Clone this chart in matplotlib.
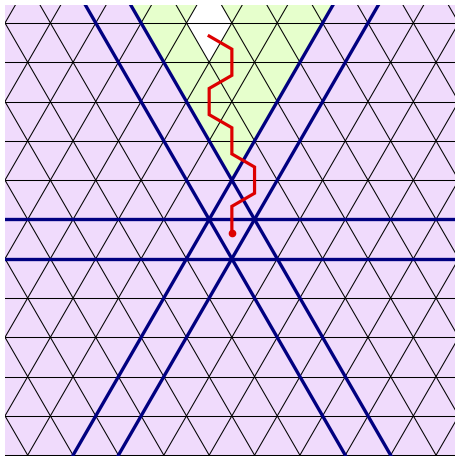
import numpy as np
import matplotlib
matplotlib.use("Agg")
import matplotlib.pyplot as plt
from matplotlib.collections import PolyCollection

R3 = np.sqrt(3.0)

# Walk through triangle centroids: x in edge lengths, height in lattice rows
path_x = [-0.5, 0.0, 0.0, -0.5, -0.5, 0.0, 0.0, 0.5, 0.5, 0.0, 0.0]
path_row = [17/3, 16/3, 14/3, 13/3, 11/3, 10/3, 8/3, 7/3, 5/3, 4/3, 2/3]

# Blank (uncoloured) cells, given by centroid
white_x = [-0.5, -0.5]
white_row = [17/3, 19/3]

# Thick guide lines: horizontals (rows) and sloped lines through a vertex
guide_rows = [0, 1]
guide_points_x = [0.0, 0.0]
guide_points_row = [0, 2]

# Cone apex (vertex) of the highlighted wedge
apex_x, apex_row = 0.0, 2

purple = "#f0dbfc"
green = "#e6ffcc"
navy = "#000080"
red = "#dd0000"

x_min, x_max = -5.0, 4.94
y_max = 5.592
y_min = y_max - 9.94

fig = plt.figure(figsize=(4.55, 4.58), dpi=100)
ax = fig.add_axes([5/455, 2/458, 451/455, 451/458])
ax.set_xlim(x_min, x_max)
ax.set_ylim(y_min, y_max)
ax.axis("off")


def ry(row):
    return np.asarray(row) * R3 / 2


# Triangular cells
polys, colors = [], []
for j in range(-7, 9):
    for i in range(-12, 12):
        x0 = i + j / 2
        up = [(x0, ry(j)), (x0 + 1, ry(j)), (x0 + 0.5, ry(j + 1))]
        dn = [(x0 + 1, ry(j)), (x0 + 0.5, ry(j + 1)), (x0 + 1.5, ry(j + 1))]
        for tri, cx, crow in ((up, x0 + 0.5, j + 1/3), (dn, x0 + 1.0, j + 2/3)):
            if cx < x_min - 2 or cx > x_max + 2:
                continue
            col = purple
            if crow > apex_row and abs(cx - apex_x) <= (crow - apex_row) / 2:
                col = green
            for wx, wr in zip(white_x, white_row):
                if abs(cx - wx) < 1e-6 and abs(crow - wr) < 1e-6:
                    col = "white"
            polys.append(tri)
            colors.append(col)

ax.add_collection(PolyCollection(polys, facecolors=colors, edgecolors=colors,
                                 linewidths=0.3, zorder=1))

# Thin lattice lines
for j in range(-7, 9):
    ax.axhline(ry(j), color="black", lw=0.75, zorder=2)
for i in range(-15, 16):
    ax.axline((i, 0), slope=R3, color="black", lw=0.75, zorder=2)
    ax.axline((i, 0), slope=-R3, color="black", lw=0.75, zorder=2)

# Thick guide lines
for r in guide_rows:
    ax.axhline(ry(r), color=navy, lw=2.4, zorder=3)
for gx, gr in zip(guide_points_x, guide_points_row):
    ax.axline((gx, ry(gr)), slope=R3, color=navy, lw=2.4, zorder=3)
    ax.axline((gx, ry(gr)), slope=-R3, color=navy, lw=2.4, zorder=3)

# Walk
ax.plot(path_x, ry(path_row), color=red, lw=2.3, zorder=4,
        solid_joinstyle="miter")
ax.plot(path_x[-1], ry(path_row[-1]), "o", color=red, ms=4.5, zorder=5)

fig.savefig("out.png", dpi=100)
